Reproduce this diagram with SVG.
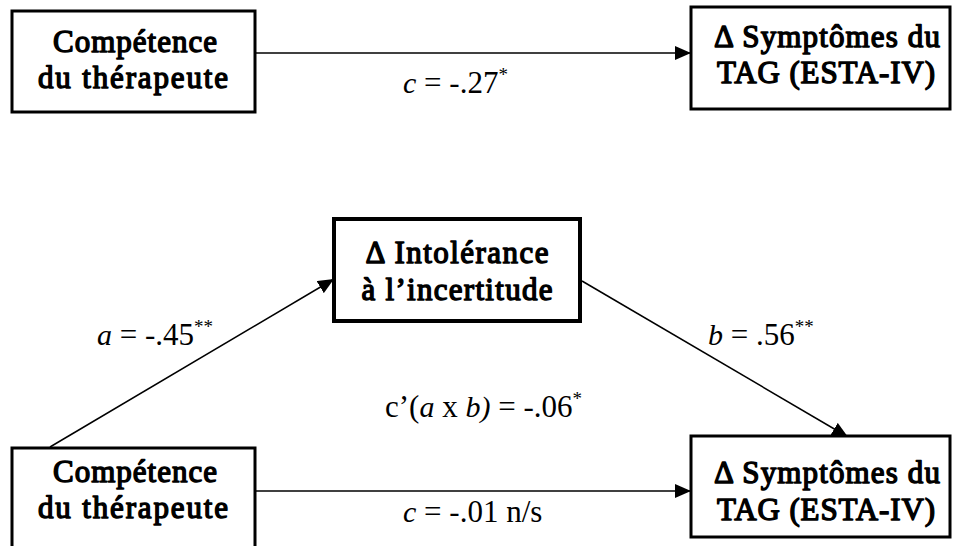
<svg xmlns="http://www.w3.org/2000/svg" width="955" height="546" viewBox="0 0 955 546">
<style>
.box{fill:#fff;stroke:#000;stroke-width:3}
.thick{stroke-width:4}
text{font-family:'Liberation Serif','Times New Roman',serif;fill:#000}
.bt{font-size:31px;text-anchor:middle;stroke:#000;stroke-width:1.4;stroke-linejoin:round}
.lb{font-size:31px}
.it{font-style:italic;font-size:30px}
.sup{font-size:19px}
.ln{stroke:#000;stroke-width:1.5;fill:none}
</style>
<defs>
<marker id="arr" markerUnits="userSpaceOnUse" markerWidth="16" markerHeight="14" refX="16" refY="7" orient="auto">
<path d="M0,0 L16,7 L0,14 z" fill="#000"/>
</marker>
</defs>
<rect width="955" height="546" fill="#fff"/>
<g id="connectors">
<line class="ln" x1="255" y1="53" x2="691" y2="53" marker-end="url(#arr)"/>
<line class="ln" x1="50" y1="447" x2="334" y2="279" marker-end="url(#arr)"/>
<line class="ln" x1="582" y1="281" x2="848" y2="437" marker-end="url(#arr)"/>
<line class="ln" x1="255" y1="491" x2="691" y2="491" marker-end="url(#arr)"/>
</g>
<g id="labels">
<text class="lb" x="403" y="93"><tspan class="it">c</tspan> = -.27<tspan class="sup" dy="-12">*</tspan></text>
<text class="lb" x="97" y="345"><tspan class="it">a</tspan> = -.45<tspan class="sup" dy="-12">**</tspan></text>
<text class="lb" x="708" y="345"><tspan class="it">b</tspan> = .56<tspan class="sup" dy="-12">**</tspan></text>
<text class="lb" x="385" y="417">c’(<tspan class="it">a</tspan> x <tspan class="it">b)</tspan> = -.06<tspan class="sup" dy="-12">*</tspan></text>
<text class="lb" x="403" y="522"><tspan class="it">c</tspan> = -.01 n/s</text>
</g>
<g id="node-competence-top">
<rect class="box" x="12" y="11" width="243" height="101"/>
<text class="bt" x="135" y="52" textLength="164" lengthAdjust="spacing">Compétence</text>
<text class="bt" x="133" y="88" textLength="190" lengthAdjust="spacing">du thérapeute</text>
</g>
<g id="node-symptomes-top">
<rect class="box" x="691" y="7" width="259" height="102"/>
<text class="bt" x="827" y="47" textLength="226" lengthAdjust="spacing">Δ Symptômes du</text>
<text class="bt" x="826" y="83" textLength="218" lengthAdjust="spacing">TAG (ESTA-IV)</text>
</g>
<g id="node-intolerance">
<rect class="box thick" x="334" y="219" width="246" height="102"/>
<text class="bt" x="457" y="263" textLength="183" lengthAdjust="spacing">Δ Intolérance</text>
<text class="bt" x="457" y="300" textLength="191" lengthAdjust="spacing">à l’incertitude</text>
</g>
<g id="node-competence-bottom">
<rect class="box" x="12" y="448" width="243" height="110"/>
<text class="bt" x="135" y="482" textLength="164" lengthAdjust="spacing">Compétence</text>
<text class="bt" x="133" y="518" textLength="190" lengthAdjust="spacing">du thérapeute</text>
</g>
<g id="node-symptomes-bottom">
<rect class="box" x="691" y="436" width="259" height="101"/>
<text class="bt" x="827" y="483" textLength="226" lengthAdjust="spacing">Δ Symptômes du</text>
<text class="bt" x="826" y="520" textLength="218" lengthAdjust="spacing">TAG (ESTA-IV)</text>
</g>
</svg>
